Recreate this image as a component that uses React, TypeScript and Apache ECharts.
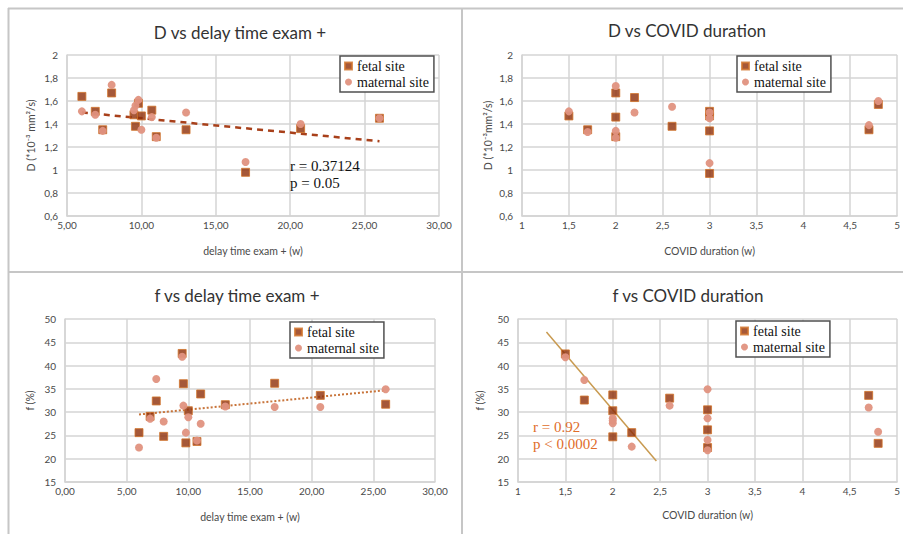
import React, { useEffect, useRef } from "react";
import * as echarts from "echarts";

// ---------- data ----------
const delayX = [6, 6.9, 7.4, 8, 9.5, 9.6, 9.8, 10, 10.7, 11, 13, 17, 20.7, 26];
const dFetalDelay = [1.64, 1.51, 1.35, 1.67, 1.48, 1.38, 1.58, 1.47, 1.52, 1.29, 1.35, 0.98, 1.36, 1.45];
const dMaternalDelay = [1.51, 1.48, 1.34, 1.74, 1.52, 1.56, 1.61, 1.35, 1.46, 1.28, 1.5, 1.07, 1.4, 1.45];
const fFetalDelay = [25.6, 29.1, 32.4, 24.8, 42.6, 36.1, 23.4, 30.3, 23.7, 33.9, 31.6, 36.2, 33.6, 31.7];
const fMaternalDelay = [22.4, 28.6, 37.1, 28.0, 41.9, 31.4, 25.6, 28.9, 23.9, 27.5, 31.2, 31.1, 31.1, 34.9];

const covFetalDX = [1.5, 1.7, 2, 2, 2, 2.2, 2.6, 3, 3, 3, 3, 4.7, 4.8];
const dFetalCov = [1.47, 1.35, 1.67, 1.46, 1.29, 1.63, 1.38, 1.51, 1.47, 1.34, 0.97, 1.35, 1.57];
const covMaternalDX = [1.5, 1.7, 2, 2, 2, 2.2, 2.6, 3, 3, 3, 4.7, 4.8];
const dMaternalCov = [1.51, 1.33, 1.73, 1.34, 1.28, 1.5, 1.55, 1.5, 1.45, 1.06, 1.39, 1.6];

const covFetalFX = [1.5, 1.7, 2, 2, 2, 2.2, 2.6, 3, 3, 3, 4.7, 4.8];
const fFetalCov = [42.5, 32.6, 33.7, 30.3, 24.7, 25.6, 33.0, 30.5, 26.2, 22.4, 33.6, 23.3];
const covMaternalFX = [1.5, 1.7, 2, 2, 2, 2.2, 2.6, 3, 3, 3, 3, 4.7, 4.8];
const fMaternalCov = [41.8, 36.9, 28.7, 27.6, 28.2, 22.6, 31.4, 34.9, 28.7, 24.0, 21.8, 31.0, 25.8];

const trendDDelay = [[6, 1.5], [26, 1.25]];
const trendFDelay = [[6, 29.5], [26, 34.7]];
const trendFCov = [[1.3, 47.2], [2.46, 19.5]];

const delayTicks = ["0,00", "5,00", "10,00", "15,00", "20,00", "25,00", "30,00"];
const covTicks = ["1", "1,5", "2", "2,5", "3", "3,5", "4", "4,5", "5"];
const dTicks = ["0,6", "0,8", "1", "1,2", "1,4", "1,6", "1,8", "2"];
const fTicks = ["15", "20", "25", "30", "35", "40", "45", "50"];

const titles = ["D vs delay time exam +", "D vs COVID duration", "f vs delay time exam +", "f vs COVID duration"];
const legendNames = ["fetal site", "maternal site"];

const zip = (xs: number[], ys: number[]) => xs.map((x, i) => [x, ys[i]]);

const GRID_COL = "#d4d4d4";
const TICK_COL = "#4a4a4a";
const SANS = "Lato, 'Open Sans', sans-serif";
const SERIF = "'Liberation Serif', 'DejaVu Serif', serif";

function xAxis(gi: number, min: number, max: number, interval: number, ticks: string[], tickMin: number, name: string, nameGap: number) {
  return {
    type: "value", gridIndex: gi, min, max, interval,
    axisLine: { show: true, lineStyle: { color: GRID_COL, width: 1.5 } },
    axisTick: { show: false },
    splitLine: { show: true, lineStyle: { color: GRID_COL, width: 1.5 } },
    axisLabel: {
      color: TICK_COL, fontFamily: SANS, fontSize: 10, margin: 4,
      formatter: (v: number) => ticks[Math.round((v - tickMin) / interval)] ?? "",
    },
    name, nameLocation: "middle", nameGap,
    nameTextStyle: { color: TICK_COL, fontFamily: SANS, fontSize: 10.5 },
  };
}
function yAxis(gi: number, min: number, max: number, interval: number, ticks: string[], name: string, nameGap: number) {
  return {
    type: "value", gridIndex: gi, min, max, interval,
    axisLine: { show: true, lineStyle: { color: GRID_COL, width: 1.5 } },
    axisTick: { show: false },
    splitLine: { show: true, lineStyle: { color: GRID_COL, width: 1.5 } },
    axisLabel: {
      color: TICK_COL, fontFamily: SANS, fontSize: 10, margin: 9,
      formatter: (v: number) => ticks[Math.round((v - min) / interval)] ?? "",
    },
    name, nameLocation: "middle", nameGap, nameRotate: 90,
    nameTextStyle: { color: TICK_COL, fontFamily: SANS, fontSize: 10.5 },
  };
}

function fetal(gi: number, data: number[][]) {
  return {
    type: "scatter", name: "fetal site", xAxisIndex: gi, yAxisIndex: gi, data,
    symbol: "rect", symbolSize: 8,
    itemStyle: { color: "#8E2E08", borderColor: "#D2742A", borderWidth: 1 },
    z: 3,
  };
}
function maternal(gi: number, data: number[][]) {
  return {
    type: "scatter", name: "maternal site", xAxisIndex: gi, yAxisIndex: gi, data,
    symbol: "circle", symbolSize: 8,
    itemStyle: { color: "#E0927F", opacity: 0.95 },
    z: 4,
  };
}
function trend(gi: number, data: number[][], color: string, width: number, type: any) {
  return {
    type: "line", xAxisIndex: gi, yAxisIndex: gi, data, symbol: "none", silent: true,
    lineStyle: { color, width, type }, z: 2,
  };
}
function legend(left: number, top: number) {
  return {
    data: legendNames, left, top, orient: "vertical", selectedMode: false,
    itemWidth: 7, itemHeight: 7, itemGap: 2,
    padding: [3, 5, 3, 4],
    borderColor: "#505050", borderWidth: 1.5, backgroundColor: "#fff",
    textStyle: { fontFamily: SERIF, fontSize: 14, color: "#111" },
  };
}

const titlePos = [[240, 32], [687, 30], [237, 295], [688, 295]];

export default function App() {
  const ref = useRef<HTMLDivElement>(null);
  useEffect(() => {
    if (!ref.current) return;
    const chart = echarts.init(ref.current, undefined, { renderer: "svg" });
    const borderStyle = { stroke: "#c6c6c6", lineWidth: 2 };
    chart.setOption({
      animation: false,
      backgroundColor: "#fff",
      grid: [
        { left: 67, top: 55, width: 372, height: 161 },
        { left: 522, top: 55, width: 378, height: 161 },
        { left: 65, top: 319, width: 370, height: 163 },
        { left: 518, top: 319, width: 382, height: 163 },
      ],
      xAxis: [
        xAxis(0, 5, 30, 5, delayTicks, 0, "delay time exam + (w)", 29),
        xAxis(1, 1, 5, 0.5, covTicks, 1, "COVID duration (w)", 29),
        xAxis(2, 0, 30, 5, delayTicks, 0, "delay time exam + (w)", 29),
        xAxis(3, 1, 5, 0.5, covTicks, 1, "COVID duration (w)", 27),
      ],
      yAxis: [
        yAxis(0, 0.6, 2, 0.2, dTicks, "D (*10\u207B\u00B3 mm\u00B2/s)", 31),
        yAxis(1, 0.6, 2, 0.2, dTicks, "D (*10\u207B\u00B3mm\u00B2/s)", 29),
        yAxis(2, 15, 50, 5, fTicks, "f (%)", 30),
        yAxis(3, 15, 50, 5, fTicks, "f (%)", 33),
      ],
      legend: [legend(340, 56), legend(737, 56), legend(290, 322), legend(736, 321)],
      series: [
        trend(0, trendDDelay, "#A8401A", 2.5, [6, 5]),
        fetal(0, zip(delayX, dFetalDelay)),
        maternal(0, zip(delayX, dMaternalDelay)),
        fetal(1, zip(covFetalDX, dFetalCov)),
        maternal(1, zip(covMaternalDX, dMaternalCov)),
        trend(2, trendFDelay, "#C8743A", 2, [2, 2]),
        fetal(2, zip(delayX, fFetalDelay)),
        maternal(2, zip(delayX, fMaternalDelay)),
        trend(3, trendFCov, "#C89A50", 1.5, "solid"),
        fetal(3, zip(covFetalFX, fFetalCov)),
        maternal(3, zip(covMaternalFX, fMaternalCov)),
      ],
      graphic: [
        { type: "line", shape: { x1: 8, y1: 8.5, x2: 903, y2: 8.5 }, style: borderStyle, silent: true },
        { type: "line", shape: { x1: 8.5, y1: 8, x2: 8.5, y2: 534 }, style: borderStyle, silent: true },
        { type: "line", shape: { x1: 462, y1: 8, x2: 462, y2: 534 }, style: borderStyle, silent: true },
        { type: "line", shape: { x1: 8, y1: 272, x2: 903, y2: 272 }, style: borderStyle, silent: true },
        ...titles.map((t, i) => ({
          type: "text", x: titlePos[i][0], y: titlePos[i][1],
          style: { text: t, fill: "#333", font: `17px ${SANS}`, textAlign: "center", textVerticalAlign: "middle" },
        })),
        { type: "text", x: 290, y: 166, z: 10, style: { text: "r = 0.37124", fill: "#111", font: `15px ${SERIF}`, textVerticalAlign: "middle" } },
        { type: "text", x: 290, y: 183, z: 10, style: { text: "p = 0.05", fill: "#111", font: `15px ${SERIF}`, textVerticalAlign: "middle" } },
        { type: "text", x: 533, y: 427, z: 10, style: { text: "r = 0.92", fill: "#E06C2A", font: `15px ${SERIF}`, textVerticalAlign: "middle" } },
        { type: "text", x: 533, y: 444, z: 10, style: { text: "p < 0.0002", fill: "#E06C2A", font: `15px ${SERIF}`, textVerticalAlign: "middle" } },
      ],
    });
    return () => chart.dispose();
  }, []);
  return (
    <div
      ref={ref}
      style={{ position: "absolute", left: 0, top: 0, width: 903, height: 534, background: "#fff" }}
    />
  );
}
